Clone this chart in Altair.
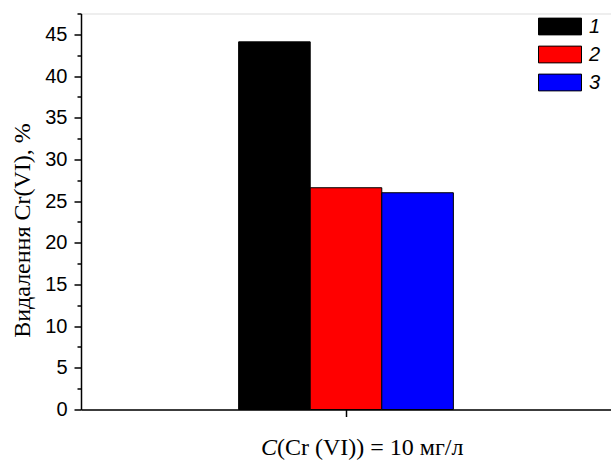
import altair as alt
import pandas as pd

groups = ["C(Cr (VI)) = 10 мг/л"]
series = ["1", "2", "3"]
values = [44.1, 26.6, 26.0]
colors = ["#000000", "#ff0000", "#0000ff"]
y_ticks = [i * 2.5 for i in range(20)]

df = pd.DataFrame({"group": groups * 3, "series": series, "value": values})

bars = alt.Chart(df).mark_bar(stroke="black", strokeWidth=1).encode(
    x=alt.X("group:N",
            scale=alt.Scale(paddingInner=0, paddingOuter=0.734),
            axis=alt.Axis(labels=False, title=None, tickSize=7, tickWidth=1.5,
                          domainWidth=1.5, domainColor="black", tickColor="black")),
    xOffset=alt.XOffset("series:N", scale=alt.Scale(paddingInner=0, paddingOuter=0)),
    y=alt.Y("value:Q",
            scale=alt.Scale(domain=[0, 47.5], nice=False),
            axis=alt.Axis(values=y_ticks, grid=False,
                          labelExpr="datum.value % 5 == 0 ? datum.label : ''",
                          tickSize={"condition": {"test": "datum.value % 5 != 0", "value": 4}, "value": 7},
                          tickWidth=1.5, domainWidth=1.5, domainColor="black", tickColor="black",
                          labelFont="Liberation Sans", labelFontSize=20, labelColor="black",
                          labelPadding=7,
                          title="Видалення Cr(VI), %", titleFont="Liberation Serif",
                          titleFontSize=24, titleFontWeight="normal", titleColor="black",
                          titleX=-59, titleY=216.5, titleAlign="center", titleBaseline="middle")),
    color=alt.Color("series:N",
                    scale=alt.Scale(domain=series, range=colors),
                    legend=alt.Legend(title=None, orient="none", legendX=457, legendY=-1,
                                      symbolType="M-1,-0.39H1V0.39H-1Z", symbolSize=1849,
                                      symbolStrokeColor="black", symbolStrokeWidth=1,
                                      clipHeight=28, rowPadding=0, labelOffset=7,
                                      labelFont="Liberation Sans", labelFontSize=20,
                                      labelFontStyle="italic", labelColor="black")),
)

title_parts = pd.DataFrame({"t": ["C"]})
title_rest = pd.DataFrame({"t": ["(Cr (VI)) = 10 мг/л"]})

t1 = alt.Chart(title_parts).mark_text(font="Liberation Serif", fontSize=24, fontStyle="italic",
                                      align="right", baseline="alphabetic", color="black").encode(
    text="t:N", x=alt.value(196), y=alt.value(441.5))
t2 = alt.Chart(title_rest).mark_text(font="Liberation Serif", fontSize=24,
                                     align="left", baseline="alphabetic", color="black").encode(
    text="t:N", x=alt.value(196), y=alt.value(441.5))

chart = alt.layer(bars, t1, t2).properties(
    width=530, height=396,
    padding={"left": 81, "top": 13.5, "right": 0, "bottom": 50.5},
    autosize=alt.AutoSizeParams(type="none"),
).configure_view(stroke=None).configure(background="white")

chart.save("out.html", embed_options={"renderer": "svg", "actions": False})
